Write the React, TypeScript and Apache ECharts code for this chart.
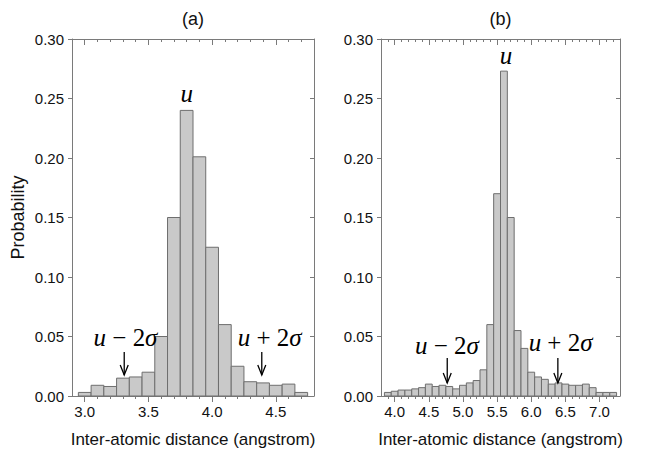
import React, { useEffect, useRef } from "react";
import * as echarts from "echarts";

// ---------- data ----------
const BIN_WIDTH = 0.1;

const A_CENTERS = [3.0, 3.1, 3.2, 3.3, 3.4, 3.5, 3.6, 3.7, 3.8, 3.9, 4.0, 4.1, 4.2, 4.3, 4.4, 4.5, 4.6, 4.7];
const A_VALUES = [0.003, 0.009, 0.008, 0.015, 0.016, 0.02, 0.05, 0.15, 0.24, 0.201, 0.125, 0.06, 0.025, 0.012, 0.011, 0.009, 0.01, 0.003];

const B_CENTERS = [
  3.9, 4.0, 4.1, 4.2, 4.3, 4.4, 4.5, 4.6, 4.7, 4.8, 4.9, 5.0, 5.1, 5.2, 5.3, 5.4, 5.5,
  5.6, 5.7, 5.8, 5.9, 6.0, 6.1, 6.2, 6.3, 6.4, 6.5, 6.6, 6.7, 6.8, 6.9, 7.0, 7.1, 7.2,
];
const B_VALUES = [
  0.003, 0.004, 0.005, 0.005, 0.006, 0.007, 0.01, 0.008, 0.009, 0.008, 0.006, 0.009, 0.011, 0.013, 0.022, 0.06, 0.17,
  0.273, 0.15, 0.055, 0.04, 0.02, 0.016, 0.014, 0.01, 0.011, 0.01, 0.009, 0.009, 0.01, 0.007, 0.003, 0.003, 0.003,
];

const A_X_RANGE = [2.9, 4.8];
const B_X_RANGE = [3.8, 7.3];
const Y_RANGE = [0, 0.3];
const Y_STEP = 0.05;

const A_MAJOR = [3.0, 3.5, 4.0, 4.5];
const A_MINOR = [3.0, 3.1, 3.2, 3.3, 3.4, 3.5, 3.6, 3.7, 3.8, 3.9, 4.0, 4.1, 4.2, 4.3, 4.4, 4.5, 4.6, 4.7];
const B_MAJOR = [4.0, 4.5, 5.0, 5.5, 6.0, 6.5, 7.0];
const B_MINOR = [
  3.9, 4.0, 4.1, 4.2, 4.3, 4.4, 4.5, 4.6, 4.7, 4.8, 4.9, 5.0, 5.1, 5.2, 5.3, 5.4, 5.5,
  5.6, 5.7, 5.8, 5.9, 6.0, 6.1, 6.2, 6.3, 6.4, 6.5, 6.6, 6.7, 6.8, 6.9, 7.0, 7.1, 7.2,
];

// annotation arrows: [x, yFrom, yTo]
const A_ARROWS = [
  [3.31, 0.037, 0.0176],
  [4.39, 0.037, 0.0176],
];
const B_ARROWS = [
  [4.77, 0.0319, 0.0109],
  [6.39, 0.0319, 0.0109],
];

// annotation labels: [x, y]
const A_LABEL_POS = [
  [3.8, 0.2543],
  [3.32, 0.0495],
  [4.452, 0.0495],
];
const B_LABEL_POS = [
  [5.63, 0.2861],
  [4.765, 0.0428],
  [6.43, 0.0453],
];
const LABEL_TEXTS = ["{i|u}", "{i|u}{n| − 2}{i|σ}", "{i|u}{n| + 2}{i|σ}"];

const PANEL_TITLES = ["(a)", "(b)"];
const X_NAME = "Inter-atomic distance (angstrom)";
const Y_NAME = "Probability";

// ---------- styles ----------
const FRAME = "#7a7a7a";
const TEXT = "#111";
const SANS = "'Liberation Sans', Arial, sans-serif";
const SERIF = "'Liberation Serif', 'Times New Roman', serif";
const ANN_SIZE = 25;

const RICH = {
  i: { fontFamily: SERIF, fontStyle: "italic", fontSize: ANN_SIZE, color: "#000" },
  n: { fontFamily: SERIF, fontStyle: "normal", fontSize: ANN_SIZE, color: "#000" },
};

function xAxes(gridIndex: number, range: number[], major: number[], minor: number[]) {
  const base = {
    type: "value",
    gridIndex,
    min: range[0],
    max: range[1],
    splitLine: { show: false },
  };
  return [
    {
      ...base,
      position: "bottom",
      axisLine: { show: true, lineStyle: { color: FRAME, width: 1 } },
      axisTick: { show: true, inside: false, length: 6, customValues: major, lineStyle: { color: FRAME } },
      axisLabel: {
        show: true,
        customValues: major,
        formatter: (v: number) => v.toFixed(1),
        color: TEXT,
        fontSize: 15,
        fontFamily: SANS,
        margin: 8,
      },
      name: X_NAME,
      nameLocation: "middle",
      nameGap: 35,
      nameTextStyle: { fontSize: 17, fontFamily: SANS, color: TEXT },
    },
    {
      ...base,
      position: "bottom",
      axisLine: { show: false },
      axisTick: { show: true, inside: false, length: 3, customValues: minor, lineStyle: { color: FRAME } },
      axisLabel: { show: false },
    },
    {
      ...base,
      position: "top",
      axisLine: { show: true, lineStyle: { color: FRAME, width: 1 } },
      axisTick: { show: true, inside: true, length: 6, customValues: major, lineStyle: { color: FRAME } },
      axisLabel: { show: false },
    },
    {
      ...base,
      position: "top",
      axisLine: { show: false },
      axisTick: { show: true, inside: true, length: 3, customValues: minor, lineStyle: { color: FRAME } },
      axisLabel: { show: false },
    },
  ];
}

function yAxes(gridIndex: number, withName: boolean) {
  const base = {
    type: "value",
    gridIndex,
    min: Y_RANGE[0],
    max: Y_RANGE[1],
    interval: Y_STEP,
    splitLine: { show: false },
  };
  return [
    {
      ...base,
      position: "left",
      axisLine: { show: true, lineStyle: { color: FRAME, width: 1 } },
      axisTick: { show: true, inside: false, length: 4, lineStyle: { color: FRAME } },
      axisLabel: {
        show: true,
        formatter: (v: number) => v.toFixed(2),
        color: TEXT,
        fontSize: 15,
        fontFamily: SANS,
        margin: 8,
      },
      ...(withName
        ? {
            name: Y_NAME,
            nameLocation: "middle",
            nameGap: 45,
            nameTextStyle: { fontSize: 18, fontFamily: SANS, color: TEXT },
          }
        : {}),
    },
    {
      ...base,
      position: "right",
      axisLine: { show: true, lineStyle: { color: FRAME, width: 1 } },
      axisTick: { show: true, inside: true, length: 4, lineStyle: { color: FRAME } },
      axisLabel: { show: false },
    },
  ];
}

function barSeries(xAxisIndex: number, yAxisIndex: number, centers: number[], values: number[]) {
  return {
    type: "custom",
    xAxisIndex,
    yAxisIndex,
    data: centers.map((c, i) => [c, values[i]]),
    encode: { x: 0, y: 1 },
    renderItem: (_p: any, api: any) => {
      const x = api.value(0);
      const y = api.value(1);
      const p0 = api.coord([x - BIN_WIDTH / 2, 0]);
      const p1 = api.coord([x + BIN_WIDTH / 2, y]);
      return {
        type: "rect",
        shape: { x: p0[0], y: p1[1], width: p1[0] - p0[0], height: p0[1] - p1[1] },
        style: { fill: "#c9c9c9", stroke: "#6e6e6e", lineWidth: 1 },
      };
    },
    z: 2,
  };
}

function arrowSeries(xAxisIndex: number, yAxisIndex: number, arrows: number[][]) {
  return {
    type: "custom",
    xAxisIndex,
    yAxisIndex,
    data: arrows,
    renderItem: (_p: any, api: any) => {
      const x = api.value(0);
      const s = api.coord([x, api.value(1)]);
      const t = api.coord([x, api.value(2)]);
      return {
        type: "group",
        children: [
          {
            type: "line",
            shape: { x1: s[0], y1: s[1], x2: t[0], y2: t[1] },
            style: { stroke: "#000", lineWidth: 1.3 },
          },
          {
            type: "polyline",
            shape: { points: [[t[0] - 4, t[1] - 10], [t[0], t[1]], [t[0] + 4, t[1] - 10]] },
            style: { stroke: "#000", lineWidth: 1.3, fill: null },
          },
        ],
      };
    },
    z: 5,
  };
}

function labelSeries(xAxisIndex: number, yAxisIndex: number, pos: number[][]) {
  return {
    type: "custom",
    xAxisIndex,
    yAxisIndex,
    data: pos,
    renderItem: (params: any, api: any) => {
      const p = api.coord([api.value(0), api.value(1)]);
      return {
        type: "text",
        x: p[0],
        y: p[1],
        style: {
          text: LABEL_TEXTS[params.dataIndex],
          rich: RICH,
          fontFamily: SERIF,
          fontSize: ANN_SIZE,
          fill: "#000",
          align: "center",
          verticalAlign: "middle",
        },
      };
    },
    z: 6,
  };
}

export default function App() {
  const ref = useRef<HTMLDivElement>(null);
  useEffect(() => {
    if (!ref.current) return;
    const chart = echarts.init(ref.current, undefined, { renderer: "svg" });
    const grids = [
      { left: 72, top: 39, width: 242, height: 357 },
      { left: 381, top: 39, width: 239, height: 357 },
    ];
    const option = {
      animation: false,
      backgroundColor: "#fff",
      grid: grids,
      xAxis: [...xAxes(0, A_X_RANGE, A_MAJOR, A_MINOR), ...xAxes(1, B_X_RANGE, B_MAJOR, B_MINOR)],
      yAxis: [...yAxes(0, true), ...yAxes(1, false)],
      graphic: PANEL_TITLES.map((t, i) => ({
        type: "text",
        x: grids[i].left + grids[i].width / 2,
        y: 19,
        style: {
          text: t,
          fontSize: 18,
          fontFamily: SANS,
          fill: TEXT,
          align: "center",
          verticalAlign: "middle",
        },
      })),
      series: [
        barSeries(0, 0, A_CENTERS, A_VALUES),
        arrowSeries(0, 0, A_ARROWS),
        labelSeries(0, 0, A_LABEL_POS),
        barSeries(4, 2, B_CENTERS, B_VALUES),
        arrowSeries(4, 2, B_ARROWS),
        labelSeries(4, 2, B_LABEL_POS),
      ],
    };
    chart.setOption(option as any);
    return () => chart.dispose();
  }, []);
  return (
    <div
      ref={ref}
      style={{ position: "absolute", left: 0, top: 0, width: 649, height: 465, background: "#fff" }}
    />
  );
}
